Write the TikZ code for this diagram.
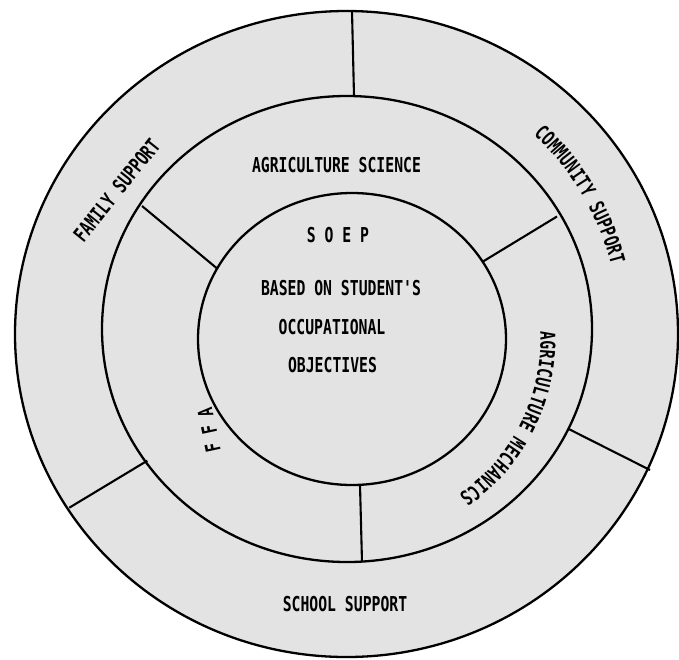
\documentclass[tikz,border=0pt]{standalone}
\usepackage{fontspec}
\newfontfamily\lblfont{DejaVu Sans Mono}[FakeStretch=0.72]
\begin{document}
\begin{tikzpicture}[x=1pt,y=-1pt,
  ring/.style={line width=2.3pt},
  divider/.style={line width=2.1pt},
  lbl/.style={font=\lblfont\bfseries\fontsize{20.5}{22}\selectfont, inner sep=0pt,
              text height=15pt, text depth=0pt, anchor=center}]
\useasboundingbox (0,0) rectangle (679,659);
% stippled disc
\fill[black!11] (346.5,334) ellipse [x radius=331.5, y radius=323];
% dividers of the outer ring
\coordinate (o1a) at (352,11);   \coordinate (o1b) at (354,96);
\coordinate (o2a) at (569.3,429.3); \coordinate (o2b) at (650,470);
\coordinate (o3a) at (147.3,460.7); \coordinate (o3b) at (69.3,507.7);
\draw[divider] (o1a) -- (o1b);
\draw[divider] (o2a) -- (o2b);
\draw[divider] (o3a) -- (o3b);
% dividers of the middle ring
\coordinate (m1a) at (142,206);  \coordinate (m1b) at (216.5,268);
\coordinate (m2a) at (482.5,261.8); \coordinate (m2b) at (557,216.5);
\coordinate (m3a) at (360,485);  \coordinate (m3b) at (362,562);
\draw[divider] (m1a) -- (m1b);
\draw[divider] (m2a) -- (m2b);
\draw[divider] (m3a) -- (m3b);
% rings
\draw[ring] (346.5,334) ellipse [x radius=331.5, y radius=323];
\draw[ring] (347,329) ellipse [x radius=245, y radius=233];
\draw[ring] (352,339) ellipse [x radius=154, y radius=146];
% straight labels
\node[lbl] (agsci) at (336.5,165) {AGRICULTURE SCIENCE};
\node[lbl] (soep)  at (338,235)   {S O E P};
\node[lbl] (based) at (341,288)   {BASED ON STUDENT'S};
\node[lbl] (occ)   at (332,327)   {OCCUPATIONAL};
\node[lbl] (obj)   at (332.5,365) {OBJECTIVES};
\node[lbl] (school) at (345,604)  {SCHOOL SUPPORT};
\node[lbl, rotate=51.3] (family) at (116.7,190) {FAMILY SUPPORT};
\node[lbl, rotate=102] (ffa) at (209,430) {F F A};
% curved label: community support
\foreach \ch/\k in {C/0,O/1,M/2,M/3,U/4,N/5,I/6,T/7,Y/8,S/10,U/11,P/12,P/13,O/14,R/15,T/16} {
  \pgfmathsetmacro\ang{46-\k*1.906}
  \node[lbl, rotate=\ang-90] (cs\k) at ({346.5+281*cos(\ang)},{334-281*sin(\ang)}) {\ch};
}
% curved label: agriculture mechanics
\foreach \ch/\k in {A/0,G/1,R/2,I/3,C/4,U/5,L/6,T/7,U/8,R/9,E/10,M/12,E/13,C/14,H/15,A/16,N/17,I/18,C/19,S/20} {
  \pgfmathsetmacro\ang{1-\k*2.75}
  \node[lbl, rotate=\ang-90] (am\k) at ({351+197*cos(\ang)},{339-197*sin(\ang)}) {\ch};
}
\end{tikzpicture}
\end{document}
